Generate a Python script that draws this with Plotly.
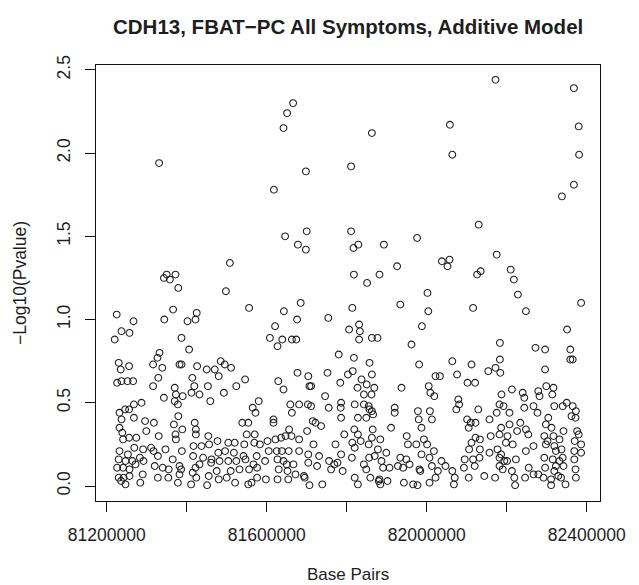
import plotly.graph_objects as go

# ---- data: base-pair position and -log10(p) ----
high_bp = [81666000, 81651000, 81642000, 81331000, 81698000, 81618000, 81811000, 81646000, 81700000, 81678000,
           81698000, 81811000, 81508000, 81350000, 81372000, 81343000, 81358000, 81379000, 81498000, 81685000,
           81556000, 81366000, 81425000, 81225000, 81643000, 81814000, 82172000, 82368000, 82058000, 82380000,
           81863000, 82064000, 82381000, 82368000, 82338000, 82130000, 81829000, 81817000, 81893000, 81976000,
           82175000, 82038000, 82057000, 82052000, 81926000, 81818000, 81882000, 81851000, 82210000, 82218000,
           82135000, 82126000, 82002000, 82228000, 82386000, 81934000, 82116000, 82004000, 82248000]
high_val = [2.30, 2.24, 2.15, 1.94, 1.89, 1.78, 1.92, 1.50, 1.53, 1.45,
            1.42, 1.53, 1.34, 1.27, 1.27, 1.25, 1.24, 1.19, 1.17, 1.10,
            1.07, 1.06, 1.04, 1.03, 1.05, 1.07, 2.44, 2.39, 2.17, 2.16,
            2.12, 1.99, 1.99, 1.81, 1.74, 1.57, 1.45, 1.43, 1.45, 1.49,
            1.39, 1.35, 1.36, 1.32, 1.32, 1.27, 1.27, 1.22, 1.30, 1.24,
            1.29, 1.27, 1.16, 1.15, 1.10, 1.09, 1.07, 1.05, 1.05]

a_bp = [81267000, 81402000, 81422000, 81344000, 81237000, 81257000, 81220000, 81387000, 81406000, 81332000,
        81327000, 81230000, 81256000, 81235000, 81316000, 81339000, 81382000, 81387000, 81426000, 81450000,
        81470000, 81485000, 81480000, 81226000, 81237000, 81252000, 81266000, 81329000, 81316000, 81414000,
        81419000, 81370000, 81343000, 81373000, 81412000, 81432000, 81453000, 81459000, 81370000, 81390000,
        81378000, 81268000, 81287000, 81246000, 81232000, 81256000, 81268000, 81237000, 81296000, 81318000,
        81379000, 81368000, 81420000, 81423000, 81389000, 81232000, 81239000, 81299000, 81372000, 81423000,
        81373000, 81330000, 81454000, 81477000, 81241000, 81256000, 81274000, 81456000, 81269000, 81232000,
        81291000, 81311000, 81317000, 81347000, 81388000, 81417000, 81437000, 81253000, 81283000, 81328000,
        81365000, 81416000, 81441000, 81479000, 81462000, 81230000, 81247000, 81264000, 81226000, 81241000,
        81257000, 81272000, 81292000, 81320000, 81340000, 81355000, 81382000, 81386000, 81422000, 81432000,
        81461000, 81475000, 81482000, 81230000, 81242000, 81257000, 81247000, 81290000, 81284000, 81328000,
        81354000, 81378000, 81382000, 81415000, 81424000, 81411000, 81455000, 81451000, 81480000, 81236000]
a_val = [0.99, 0.99, 1.00, 1.00, 0.93, 0.92, 0.88, 0.89, 0.82, 0.80,
         0.77, 0.74, 0.72, 0.70, 0.73, 0.71, 0.73, 0.73, 0.72, 0.70,
         0.70, 0.75, 0.66, 0.62, 0.63, 0.63, 0.63, 0.65, 0.60, 0.65,
         0.60, 0.59, 0.53, 0.55, 0.56, 0.55, 0.60, 0.51, 0.51, 0.54,
         0.49, 0.49, 0.50, 0.46, 0.44, 0.46, 0.41, 0.40, 0.39, 0.38,
         0.42, 0.37, 0.38, 0.34, 0.34, 0.35, 0.32, 0.33, 0.31, 0.31,
         0.28, 0.30, 0.30, 0.27, 0.28, 0.29, 0.29, 0.25, 0.23, 0.21,
         0.22, 0.23, 0.21, 0.22, 0.21, 0.24, 0.24, 0.19, 0.17, 0.18,
         0.16, 0.18, 0.17, 0.20, 0.16, 0.16, 0.15, 0.15, 0.11, 0.11,
         0.10, 0.13, 0.15, 0.12, 0.11, 0.10, 0.12, 0.10, 0.11, 0.13,
         0.14, 0.09, 0.15, 0.05, 0.05, 0.06, 0.01, 0.07, 0.02, 0.05,
         0.05, 0.02, 0.07, 0.08, 0.05, 0.01, 0.06, 0.005, 0.04, 0.03]

b_bp = [81676000, 81754000, 81621000, 81608000, 81639000, 81627000, 81663000, 81674000, 81780000, 81806000,
        81495000, 81511000, 81524000, 81546000, 81493000, 81629000, 81642000, 81677000, 81704000, 81707000,
        81711000, 81752000, 81784000, 81803000, 81580000, 81565000, 81572000, 81659000, 81681000, 81663000,
        81703000, 81711000, 81746000, 81755000, 81786000, 81785000, 81786000, 81539000, 81554000, 81617000,
        81617000, 81550000, 81570000, 81656000, 81681000, 81701000, 81715000, 81722000, 81736000, 81794000,
        81504000, 81520000, 81544000, 81569000, 81583000, 81602000, 81622000, 81636000, 81647000, 81662000,
        81717000, 81772000, 81496000, 81518000, 81542000, 81575000, 81605000, 81625000, 81638000, 81655000,
        81681000, 81731000, 81704000, 81786000, 81504000, 81524000, 81547000, 81567000, 81596000, 81627000,
        81642000, 81650000, 81667000, 81704000, 81726000, 81756000, 81769000, 81777000, 81790000, 81510000,
        81532000, 81556000, 81576000, 81630000, 81652000, 81672000, 81693000, 81761000, 81500000, 81521000,
        81554000, 81562000, 81576000, 81598000, 81627000, 81654000, 81707000, 81739000, 81695000]
b_val = [1.00, 1.01, 0.96, 0.89, 0.88, 0.84, 0.88, 0.88, 0.79, 0.94,
         0.73, 0.71, 0.60, 0.64, 0.56, 0.63, 0.58, 0.68, 0.66, 0.60,
         0.60, 0.68, 0.62, 0.67, 0.51, 0.47, 0.44, 0.49, 0.49, 0.44,
         0.49, 0.48, 0.54, 0.47, 0.50, 0.47, 0.41, 0.38, 0.38, 0.40,
         0.38, 0.31, 0.31, 0.34, 0.28, 0.33, 0.39, 0.38, 0.36, 0.31,
         0.26, 0.26, 0.25, 0.26, 0.25, 0.27, 0.28, 0.29, 0.30, 0.30,
         0.25, 0.25, 0.21, 0.20, 0.18, 0.18, 0.21, 0.21, 0.21, 0.21,
         0.21, 0.18, 0.19, 0.19, 0.15, 0.15, 0.16, 0.13, 0.15, 0.16,
         0.15, 0.13, 0.13, 0.14, 0.12, 0.15, 0.13, 0.14, 0.09, 0.09,
         0.10, 0.10, 0.11, 0.10, 0.09, 0.07, 0.06, 0.10, 0.05, 0.02,
         0.01, 0.02, 0.05, 0.04, 0.04, 0.04, 0.005, 0.01, 0.05]

c_bp = [81988000, 81831000, 81833000, 81831000, 81863000, 81877000, 81962000, 81818000, 81857000, 81815000,
        81863000, 81981000, 82064000, 82112000, 82022000, 82033000, 82076000, 82102000, 82121000, 81837000,
        81850000, 81827000, 81869000, 81843000, 81862000, 81937000, 82005000, 82009000, 82019000, 82079000,
        82081000, 82074000, 81820000, 81843000, 81855000, 81863000, 81857000, 81866000, 81828000, 81849000,
        81920000, 81920000, 81978000, 82008000, 82013000, 81980000, 81987000, 82101000, 82110000, 82105000,
        82122000, 81819000, 81865000, 81911000, 81863000, 81828000, 81950000, 81993000, 82122000, 81814000,
        81835000, 81820000, 81855000, 81884000, 81878000, 81899000, 81953000, 81974000, 82001000, 82018000,
        82007000, 82037000, 82112000, 82106000, 81813000, 81856000, 81870000, 81887000, 81934000, 81949000,
        81987000, 82047000, 82095000, 82116000, 81843000, 81849000, 81891000, 81907000, 81928000, 81941000,
        81957000, 81982000, 81984000, 82013000, 82028000, 82064000, 82093000, 82120000, 81820000, 81828000,
        81859000, 81880000, 81882000, 81884000, 81902000, 81943000, 81966000, 81977000, 82007000, 82022000,
        82070000, 82068000, 82105000]
c_val = [0.96, 0.97, 0.93, 0.88, 0.89, 0.89, 0.85, 0.77, 0.74, 0.69,
         0.67, 0.73, 0.75, 0.73, 0.66, 0.66, 0.67, 0.62, 0.62, 0.64,
         0.61, 0.59, 0.59, 0.55, 0.55, 0.59, 0.60, 0.56, 0.54, 0.52,
         0.49, 0.46, 0.49, 0.49, 0.48, 0.45, 0.46, 0.43, 0.41, 0.41,
         0.47, 0.44, 0.45, 0.45, 0.40, 0.40, 0.35, 0.40, 0.38, 0.35,
         0.38, 0.34, 0.34, 0.35, 0.29, 0.31, 0.30, 0.28, 0.29, 0.26,
         0.27, 0.23, 0.25, 0.28, 0.22, 0.20, 0.25, 0.25, 0.25, 0.21,
         0.17, 0.15, 0.26, 0.22, 0.17, 0.17, 0.18, 0.15, 0.17, 0.16,
         0.19, 0.12, 0.16, 0.16, 0.13, 0.10, 0.11, 0.11, 0.12, 0.11,
         0.13, 0.10, 0.09, 0.12, 0.09, 0.09, 0.11, 0.12, 0.05, 0.01,
         0.05, 0.03, 0.04, 0.01, 0.03, 0.02, 0.01, 0.005, 0.02, 0.05,
         0.05, 0.01, 0.05]

d_bp = [82351000, 82183000, 82272000, 82296000, 82359000, 82359000, 82365000, 82183000, 82172000, 82154000,
        82184000, 82296000, 82213000, 82187000, 82240000, 82244000, 82279000, 82299000, 82317000, 82282000,
        82314000, 82182000, 82192000, 82207000, 82175000, 82157000, 82129000, 82244000, 82267000, 82277000,
        82319000, 82340000, 82350000, 82365000, 82373000, 82362000, 82372000, 82186000, 82207000, 82234000,
        82248000, 82304000, 82298000, 82312000, 82342000, 82376000, 82380000, 82133000, 82160000, 82182000,
        82202000, 82226000, 82254000, 82294000, 82317000, 82332000, 82370000, 82386000, 82133000, 82177000,
        82198000, 82215000, 82248000, 82267000, 82298000, 82319000, 82337000, 82369000, 82386000, 82132000,
        82157000, 82182000, 82201000, 82223000, 82294000, 82315000, 82340000, 82369000, 82182000, 82190000,
        82213000, 82255000, 82296000, 82323000, 82342000, 82372000, 82144000, 82171000, 82219000, 82246000,
        82267000, 82279000, 82292000, 82311000, 82329000, 82347000, 82373000, 82221000, 82311000, 82323000,
        82332000, 82319000, 82336000, 82302000, 82194000, 82186000]
d_val = [0.94, 0.86, 0.83, 0.82, 0.82, 0.76, 0.76, 0.76, 0.71, 0.69,
         0.68, 0.70, 0.58, 0.55, 0.56, 0.53, 0.57, 0.60, 0.59, 0.54,
         0.55, 0.49, 0.48, 0.44, 0.44, 0.40, 0.46, 0.47, 0.48, 0.44,
         0.48, 0.48, 0.50, 0.48, 0.45, 0.42, 0.41, 0.35, 0.37, 0.38,
         0.34, 0.41, 0.37, 0.35, 0.33, 0.33, 0.31, 0.28, 0.30, 0.31,
         0.30, 0.33, 0.31, 0.30, 0.30, 0.28, 0.27, 0.25, 0.22, 0.22,
         0.26, 0.25, 0.21, 0.24, 0.25, 0.24, 0.22, 0.21, 0.20, 0.17,
         0.20, 0.17, 0.15, 0.16, 0.17, 0.16, 0.17, 0.16, 0.12, 0.10,
         0.09, 0.11, 0.11, 0.12, 0.12, 0.10, 0.06, 0.05, 0.05, 0.05,
         0.07, 0.07, 0.05, 0.04, 0.06, 0.01, 0.05, 0.005, 0.005, 0.21,
         0.15, 0.09, 0.05, 0.27, 0.15, 0.19]

x_ticks = [81200000, 81400000, 81600000, 81800000, 82000000, 82200000, 82400000]
x_tick_text = ["81200000", "", "81600000", "", "82000000", "", "82400000"]
y_ticks = [0.0, 0.5, 1.0, 1.5, 2.0, 2.5]

title_text = "CDH13, FBAT\u2212PC All Symptoms, Additive Model"
x_title = "Base Pairs"
y_title = "\u2212Log10(Pvalue)"

all_bp = high_bp + a_bp + b_bp + c_bp + d_bp
all_val = high_val + a_val + b_val + c_val + d_val

FONT = "Liberation Sans, Arial, Helvetica, sans-serif"
INK = "#1e1e1e"

fig = go.Figure()
fig.add_trace(go.Scatter(
    x=all_bp, y=all_val, mode="markers",
    marker=dict(symbol="circle-open", size=6.8, color=INK, line=dict(width=1.05, color=INK)),
    hoverinfo="x+y", showlegend=False,
))

axis_common = dict(
    showgrid=False, zeroline=False, showline=True, mirror=True,
    linecolor="#111", linewidth=1.4, ticks="outside", ticklen=10, tickwidth=1.3,
    tickcolor="#111", tickfont=dict(family=FONT, size=17.5, color=INK),
)

fig.update_layout(
    width=639, height=585, autosize=False,
    margin=dict(l=96, r=39, t=65, b=84, pad=0),
    paper_bgcolor="white", plot_bgcolor="white",
    font=dict(family=FONT, color=INK),
    xaxis=dict(range=[81173250, 82433250], tickvals=x_ticks, ticktext=x_tick_text,
               ticklabelstandoff=8, **axis_common),
    yaxis=dict(range=[-0.09, 2.529], tickvals=y_ticks, tickformat=".1f", tickangle=-90,
               ticklabelstandoff=8, **axis_common),
    annotations=[
        dict(text="<b>" + title_text + "</b>", xref="paper", yref="paper", x=0.5, y=1 + (65 - 27) / 436,
             xanchor="center", yanchor="middle", showarrow=False,
             font=dict(family=FONT, size=20.5, color=INK)),
        dict(text=x_title, xref="paper", yref="paper", x=0.5, y=-(574 - 501) / 436,
             xanchor="center", yanchor="middle", showarrow=False,
             font=dict(family=FONT, size=17, color=INK)),
        dict(text=y_title, xref="paper", yref="paper", x=-(96 - 20) / 504, y=0.5, textangle=-90,
             xanchor="center", yanchor="middle", showarrow=False,
             font=dict(family=FONT, size=17.5, color=INK)),
    ],
)

fig.write_html("out.html")
